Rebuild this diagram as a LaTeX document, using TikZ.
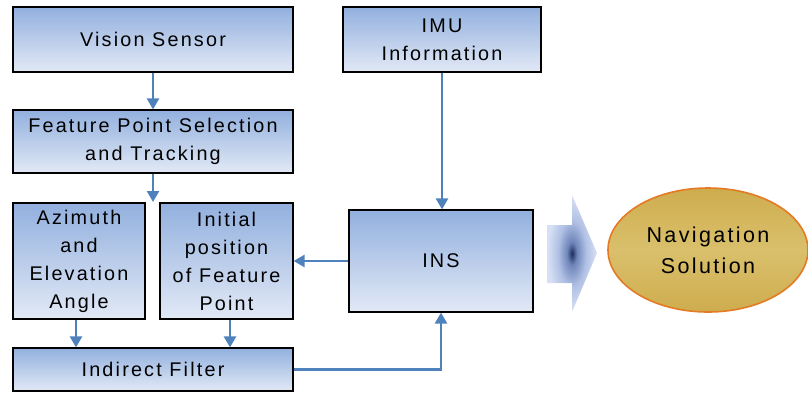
\documentclass[tikz,border=0pt]{standalone}
\usepackage{fontspec}
\setmainfont[LetterSpace=11]{Liberation Sans}
\usetikzlibrary{arrows.meta,shapes.geometric}
\definecolor{boxtop}{RGB}{146,176,222}
\definecolor{boxbot}{RGB}{226,233,246}
\definecolor{flow}{RGB}{79,129,189}
\definecolor{goldlight}{RGB}{236,224,158}
\definecolor{goldlow}{RGB}{204,170,74}
\definecolor{goldmid}{RGB}{218,192,108}
\definecolor{rim}{RGB}{228,122,36}
\definecolor{navy}{RGB}{28,44,96}
\definecolor{midblue}{RGB}{112,134,186}
\definecolor{softblue}{RGB}{176,192,228}
\definecolor{paleblue}{RGB}{214,223,243}
% banded gold fill for the solution ellipse
\pgfdeclareverticalshading{goldband}{100bp}{color(0bp)=(goldlight); color(22bp)=(goldlow); color(50bp)=(goldmid); color(78bp)=(goldlow); color(100bp)=(goldlight)}
% glow for the block arrow: dark core fading out quickly
\pgfdeclareradialshading{arrowglow}{\pgfpoint{0bp}{0bp}}{color(0bp)=(navy); color(5bp)=(midblue); color(14bp)=(softblue); color(24bp)=(paleblue); color(80bp)=(paleblue)}
\tikzset{
  blockbox/.style={draw=black, line width=1.2pt, top color=boxtop, bottom color=boxbot,
    align=center, inner sep=0pt, font=\fontsize{19.8}{28}\selectfont},
  flowline/.style={draw=flow, line width=2.4pt, -{Triangle[width=12pt,length=11pt]}},
}
\begin{document}
\begin{tikzpicture}[x=1pt,y=-1pt]
\useasboundingbox (0,0) rectangle (808,394);

% left column of processing blocks
\node[blockbox, minimum width=280pt, minimum height=65pt] (vision) at (153,39.5) {Vision Sensor};
\node[blockbox, minimum width=280pt, minimum height=63pt] (feature) at (153,141.5) {Feature Point Selection\\and Tracking};
\node[blockbox, minimum width=132pt, minimum height=116pt] (az) at (79,261) {Azimuth\\and\\Elevation\\Angle};
\node[blockbox, minimum width=133pt, minimum height=116pt] (init) at (226.5,261) {Initial\\position\\of Feature\\Point};
\node[blockbox, minimum width=280pt, minimum height=43pt] (filter) at (153,369.5) {Indirect Filter};

% inertial branch
\node[blockbox, minimum width=198pt, minimum height=65pt] (imu) at (442,39.5) {IMU\\Information};
\node[blockbox, minimum width=184pt, minimum height=102pt] (ins) at (441,261) {INS};

% output
\node[ellipse, draw=rim, line width=1.6pt, minimum width=200pt, minimum height=124pt,
  shading=goldband, inner sep=0pt,
  align=center, font=\fontsize{21.5}{31}\selectfont] (nav) at (708,250) {Navigation\\Solution};

% shaded block arrow towards the solution
\begin{scope}
  \clip (547,225) -- (572,225) -- (572,195) -- (597,253) -- (572,312) -- (572,283) -- (547,283) -- cycle;
  \shade[shading=arrowglow] (547,195) rectangle (597,312);
\end{scope}

% connectors
\coordinate (split) at (153,202);
\draw[flowline] (vision) -- (feature);
\draw[flowline] (feature) -- (split);
\draw[flowline] ([xshift=-3pt]az.south) -- ([xshift=-3pt]az.south |- filter.north);
\draw[flowline] ([xshift=3.5pt]init.south) -- ([xshift=3.5pt]init.south |- filter.north);
\draw[flowline] (imu.south) -- (imu.south |- ins.north);
\draw[flowline] (ins.west) -- (init.east);
\draw[flowline] (filter.east) -| (ins.south);
\end{tikzpicture}
\end{document}
